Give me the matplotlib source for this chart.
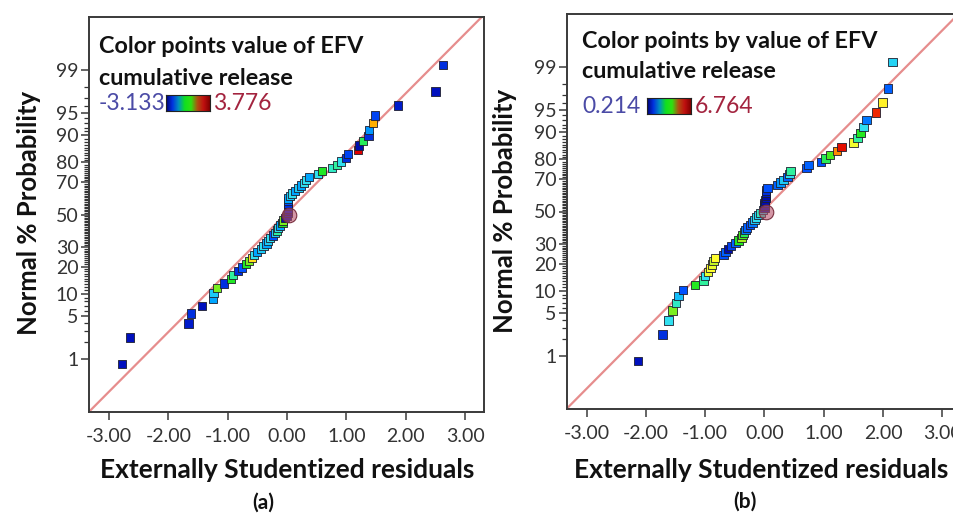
import numpy as np
import matplotlib
matplotlib.use("Agg")
import matplotlib.pyplot as plt
from matplotlib.colors import LinearSegmentedColormap
from statistics import NormalDist

# ---------------- data ----------------
# externally studentized residuals, sorted ascending (panel a)
resid_a = [-2.78, -2.65, -1.66, -1.62, -1.43, -1.25, -1.24, -1.18, -1.06, -0.95,
           -0.91, -0.83, -0.76, -0.69, -0.64, -0.59, -0.56, -0.51, -0.44, -0.40,
           -0.35, -0.32, -0.29, -0.24, -0.20, -0.17, -0.15, -0.12, -0.08, -0.07,
           -0.03, 0.00, 0.01, 0.01, 0.01, 0.01, 0.01, 0.01, 0.02, 0.05,
           0.08, 0.13, 0.19, 0.24, 0.29, 0.32, 0.37, 0.52, 0.59, 0.76,
           0.84, 0.91, 0.99, 1.03, 1.19, 1.21, 1.28, 1.37, 1.38, 1.45,
           1.48, 1.87, 2.50, 2.63]
# colour value (EFV cumulative release) of each point (panel a)
color_a = [-2.44, -2.44, -2.30, -2.10, -2.44, -1.06, -0.72, 0.67, -2.10, 0.32,
           -0.02, -2.10, -1.75, 0.32, 0.67, 1.56, -0.51, -1.06, -0.72, -0.51,
           -1.06, -0.72, -0.51, -1.75, -0.72, -0.02, -0.51, -1.06, 0.32, 0.67,
           -2.58, -2.58, -2.44, -2.58, -2.30, -2.30, -2.10, -1.75, -1.06, -0.72,
           -0.51, -1.06, -0.72, -1.06, -0.51, -0.51, -1.06, -0.51, 0.32, -0.23,
           -0.02, -0.51, -2.10, -1.89, 3.08, -2.58, 0.18, -2.10, -1.20, 1.84,
           -1.89, -2.30, -2.44, -2.10]
range_a = [-3.133, 3.776]

# panel b
resid_b = [-2.13, -1.72, -1.62, -1.55, -1.49, -1.45, -1.37, -1.17, -1.03, -1.00,
           -0.95, -0.91, -0.88, -0.86, -0.84, -0.69, -0.66, -0.61, -0.56, -0.49,
           -0.44, -0.39, -0.37, -0.35, -0.32, -0.29, -0.25, -0.20, -0.17, -0.14,
           -0.10, -0.07, -0.03, 0.00, 0.00, 0.00, 0.01, 0.02, 0.02, 0.03,
           0.03, 0.05, 0.22, 0.27, 0.32, 0.39, 0.42, 0.44, 0.71, 0.74,
           0.95, 1.03, 1.11, 1.22, 1.30, 1.50, 1.57, 1.62, 1.67, 1.72,
           1.88, 1.99, 2.08, 2.16]
color_b = [0.87, 1.20, 2.70, 3.82, 2.97, 2.38, 1.52, 3.49, 3.16, 2.70,
           4.34, 4.47, 4.34, 4.14, 4.47, 1.52, 1.65, 0.74, 1.39, 1.65,
           3.49, 3.95, 3.62, 3.36, 1.85, 1.65, 1.52, 1.85, 2.51, 2.70,
           2.57, 2.97, 2.70, 0.74, 0.74, 1.00, 0.74, 0.87, 0.74, 1.00,
           1.20, 1.52, 1.65, 2.05, 2.51, 1.65, 2.70, 3.16, 1.52, 1.65,
           1.52, 3.36, 3.62, 5.13, 5.98, 4.41, 3.16, 3.49, 2.70, 1.85,
           5.78, 4.54, 1.65, 2.57]
range_b = [0.214, 6.764]

# highlighted (selected) point at the median
highlight_resid = [0.03, 0.03]
highlight_pct = [50, 50]

# reference line (z = slope * residual + intercept)
ref_slope = [0.963, 0.965]
ref_intercept = [0.03, 0.033]

prob_ticks = [1, 5, 10, 20, 30, 50, 70, 80, 90, 95, 99]
prob_minor = [p for p in range(1, 100) if p not in prob_ticks]
x_ticks = [-3, -2, -1, 0, 1, 2, 3]
x_ticklabels = ["-3.00", "-2.00", "-1.00", "0.00", "1.00", "2.00", "3.00"]

title_a = ["Color points value of EFV", "cumulative release"]
title_b = ["Color points by value of EFV", "cumulative release"]
xlabel = "Externally Studentized residuals"
ylabel = "Normal % Probability"
panel_labels = ["(a)", "(b)"]

# ---------------- styling ----------------
FONT = ["Lato", "DejaVu Sans"]
plt.rcParams["font.family"] = FONT
cmap = LinearSegmentedColormap.from_list(
    "de", [(0.0, "#00006a"), (0.1, "#0010c0"), (0.2, "#0050ff"), (0.3, "#00a8ff"),
           (0.38, "#30e0f0"), (0.45, "#30f0a0"), (0.5, "#20e820"), (0.57, "#a0f020"),
           (0.65, "#ffff30"), (0.72, "#ffb000"), (0.8, "#ff5000"), (0.9, "#e00000"),
           (1.0, "#900000")])
bar_cmap = LinearSegmentedColormap.from_list(
    "bar", ["#000070", "#0030e0", "#0090c0", "#10e020", "#30e010", "#b05010", "#c01010", "#800000"])

nd = NormalDist()
def zq(p):
    return nd.inv_cdf(p / 100.0)

W, H = 954, 514
fig = plt.figure(figsize=(W / 100, H / 100), dpi=100)
fig.patch.set_facecolor("white")

def px_rect(x0, top, x1, bottom):
    return [x0 / W, 1 - bottom / H, (x1 - x0) / W, (bottom - top) / H]

axes_rects = [px_rect(89, 17, 484, 412), px_rect(567, 14, 962, 409)]
xlims = [(-3.34, 3.32), (-3.33, 3.33)]
panels = [(resid_a, color_a, range_a, title_a), (resid_b, color_b, range_b, title_b)]
ylabel_pos = [(29, 213), (505, 211)]
xlabel_pos = [(287, 470), (761, 470)]
panel_pos = [(263, 503), (745, 502)]

SP = "#3a3a3a"
for k, (resid, cvals, crange, ttl) in enumerate(panels):
    ax = fig.add_axes(axes_rects[k])
    n = len(resid)
    ranks = np.arange(1, n + 1)
    zpos = [zq(100.0 * (r - 0.5) / n) for r in ranks]
    ax.axline((0, ref_intercept[k]), slope=ref_slope[k], color="#e68d8d", lw=1.6, zorder=2)
    ax.scatter(resid, zpos, c=cvals, cmap=cmap, vmin=crange[0], vmax=crange[1],
               marker="s", s=36, edgecolors="#1e1e2e", linewidths=0.6, zorder=3)
    ax.scatter([highlight_resid[k]], [zq(highlight_pct[k])], s=110, marker="o",
               facecolor=(0.72, 0.32, 0.42, 0.6), edgecolor="#7a3040", linewidths=0.8, zorder=4)
    ax.set_xlim(*xlims[k])
    ax.set_ylim(-3.19, 3.19)
    ax.set_xticks(x_ticks)
    ax.set_xticklabels(x_ticklabels)
    ax.set_yticks([zq(p) for p in prob_ticks])
    ax.set_yticklabels([str(p) for p in prob_ticks])
    ax.set_yticks([zq(p) for p in prob_minor], minor=True)
    ax.tick_params(axis="both", which="major", direction="out", length=5.5, width=1.1,
                   color=SP, labelcolor="#333333", labelsize=14)
    ax.tick_params(axis="x", pad=6)
    ax.tick_params(axis="y", pad=2)
    ax.tick_params(axis="y", which="minor", length=3.5, width=0.9, color="#333333")
    for s in ax.spines.values():
        s.set_color(SP)
        s.set_linewidth(1.4)
    ax.set_facecolor("white")

    # legend text inside the panel
    tx = 0.025 if k == 0 else 0.038
    ax.text(tx, 0.909 if k == 0 else 0.914, ttl[0],
            transform=ax.transAxes, fontsize=16.8, fontweight="bold", color="#111111",
            ha="left", va="baseline")
    ax.text(tx, 0.828 if k == 0 else 0.838, ttl[1],
            transform=ax.transAxes, fontsize=16.8, fontweight="bold", color="#111111",
            ha="left", va="baseline")
    base = 0.765 if k == 0 else 0.749
    ax.text(tx, base, f"{crange[0]:.3f}", transform=ax.transAxes,
            fontsize=16.5, color="#4b4ba6", ha="left", va="baseline")
    bx0 = 0.195 if k == 0 else 0.2025
    cax = ax.inset_axes([bx0, base - 0.003, 0.111, 0.041])
    grad = np.linspace(0, 1, 256).reshape(1, -1)
    cax.imshow(grad, aspect="auto", cmap=bar_cmap, vmin=0, vmax=1)
    cax.set_xticks([])
    cax.set_yticks([])
    for s in cax.spines.values():
        s.set_color("#222222")
        s.set_linewidth(0.8)
    ax.text(bx0 + 0.12, base, f"{crange[1]:.3f}", transform=ax.transAxes,
            fontsize=16.5, color="#a3243f", ha="left", va="baseline")

    fig.text(ylabel_pos[k][0] / W, 1 - ylabel_pos[k][1] / H, ylabel, rotation=90,
             fontsize=18.5, fontweight="bold", color="#111111", ha="center", va="center")
    fig.text(xlabel_pos[k][0] / W, 1 - xlabel_pos[k][1] / H, xlabel,
             fontsize=19, fontweight="bold", color="#111111", ha="center", va="center")
    fig.text(panel_pos[k][0] / W, 1 - panel_pos[k][1] / H, panel_labels[k],
             fontsize=15, fontweight="bold", color="#111111", ha="center", va="center")

fig.savefig("out.png", dpi=100)
